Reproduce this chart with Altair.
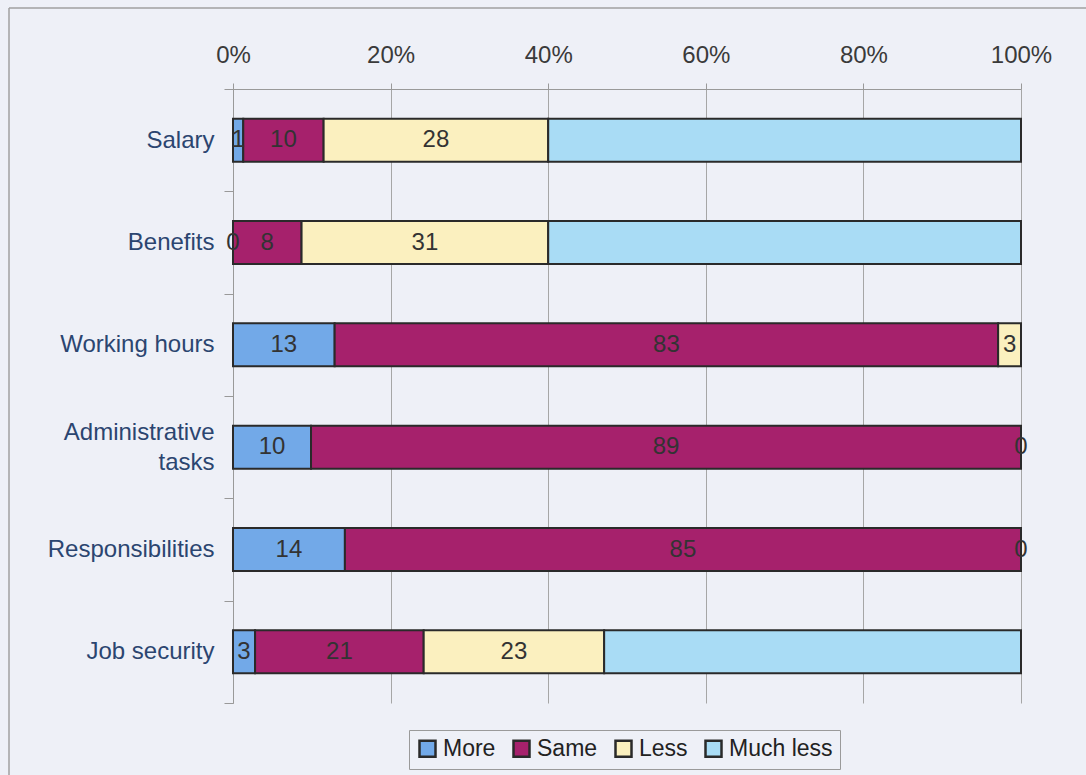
import altair as alt
import pandas as pd

categories = ["Salary", "Benefits", "Working hours", "Administrative tasks",
              "Responsibilities", "Job security"]
responses = ["More", "Same", "Less", "Much less"]
more = [1.3, 0.0, 12.9, 9.9, 14.2, 2.8]
same = [10.2, 8.7, 84.2, 90.1, 85.8, 21.4]
less = [28.5, 31.3, 2.9, 0.0, 0.0, 22.9]
much_less = [60.0, 60.0, 0.0, 0.0, 0.0, 52.9]
more_labels = ["1", "0", "13", "10", "14", "3"]
same_labels = ["10", "8", "83", "89", "85", "21"]
less_labels = ["28", "31", "3", "0", "0", "23"]
colors = ["#72a9e8", "#a6216c", "#fbf0bf", "#a9dcf5"]
x_ticks = [0, 20, 40, 60, 80, 100]

FONT = "Liberation Sans"

rows = []
series = [more, same, less, much_less]
labels = [more_labels, same_labels, less_labels, [""] * len(categories)]
for i, cat in enumerate(categories):
    for j, resp in enumerate(responses):
        rows.append({"category": cat, "response": resp, "value": series[j][i],
                     "label": labels[j][i], "order": j})
df = pd.DataFrame(rows)

base = alt.Chart(df).transform_stack(
    stack="value", groupby=["category"], as_=["x0", "x1"],
    sort=[alt.SortField("order", order="ascending")]
).transform_calculate(mid="(datum.x0 + datum.x1) / 2")

y_enc = alt.Y(
    "category:N", sort=categories,
    scale=alt.Scale(paddingInner=0, paddingOuter=0),
    axis=alt.Axis(
        title=None, orient="left", labelFontSize=24, labelFont=FONT,
        labelColor="#2b4570", tickBand="extent", tickSize=9,
        tickColor="#999999", domainColor="#999999", labelPadding=10,
        labelLineHeight=30, grid=False,
        labelOffset={"condition": {"test": "datum.value == 'Administrative tasks'",
                                   "value": -15}, "value": 0},
        labelExpr="datum.label == 'Administrative tasks' ? ['Administrative', 'tasks'] : datum.label",
    ),
)

bars = base.mark_bar(size=43, stroke="#2a2a2a", strokeWidth=2).encode(
    y=y_enc,
    x=alt.X(
        "x0:Q", scale=alt.Scale(domain=[0, 100], nice=False),
        axis=alt.Axis(
            title=None, orient="top", values=x_ticks,
            labelExpr="datum.value + '%'", labelFontSize=24, labelFont=FONT,
            labelColor="#3a3a3a", tickSize=6, tickColor="#999999",
            domainColor="#999999", grid=True, gridColor="#a6a6a6",
            labelPadding=16, labelFlush=False,
        ),
    ),
    x2="x1:Q",
    color=alt.Color(
        "response:N",
        scale=alt.Scale(domain=responses, range=colors),
        legend=alt.Legend(
            title=None, orient="none", legendX=176, legendY=641,
            direction="horizontal", symbolType="square", symbolSize=256,
            symbolStrokeColor="#2a2a2a", symbolStrokeWidth=2.5,
            labelFontSize=23, labelFont=FONT, labelColor="#222222",
            strokeColor="#9a9a9a", padding=7, columnPadding=12,
            labelOffset=4, fillColor="#eef0f7",
        ),
    ),
)

texts = base.transform_filter("datum.label != ''").mark_text(
    fontSize=24, font=FONT, color="#333333", baseline="middle", align="center"
).encode(
    y=alt.Y("category:N", sort=categories),
    x=alt.X("mid:Q"),
    text="label:N",
)

frame_df = pd.DataFrame({"a": [0]})
frame_top = alt.Chart(frame_df).mark_rule(color="#a0a0a0", strokeWidth=1.5).encode(
    x=alt.value(-224), x2=alt.value(900), y=alt.value(-81)
)
frame_left = alt.Chart(frame_df).mark_rule(color="#a0a0a0", strokeWidth=1.5).encode(
    x=alt.value(-224), y=alt.value(-81), y2=alt.value(720)
)

chart = alt.layer(bars, texts, frame_top, frame_left).properties(
    width=788, height=614,
    autosize=alt.AutoSizeParams(type="none"),
    padding={"left": 233, "top": 89, "right": 65, "bottom": 72},
).configure(background="#eef0f7").configure_view(stroke=None)

chart.save("out.html", embed_options={"renderer": "svg", "actions": False})
